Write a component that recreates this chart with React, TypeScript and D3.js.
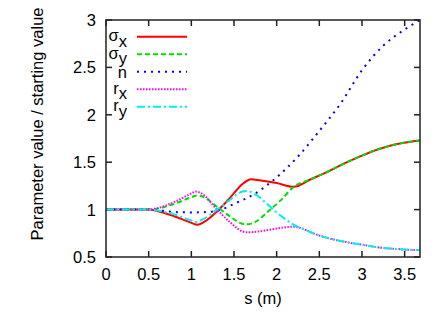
import * as d3 from "d3";

type Pt = [number, number];

const xTicks = [0, 0.5, 1, 1.5, 2, 2.5, 3, 3.5];
const yTicks = [0.5, 1, 1.5, 2, 2.5, 3];

const tail: Pt[] = [
  [2.4, 1.32], [2.6, 1.4], [2.8, 1.49], [3.0, 1.57], [3.2, 1.64],
  [3.4, 1.69], [3.6, 1.72], [3.68, 1.73],
];

const sigmaX: Pt[] = [
  [0, 1], [0.5, 1], [0.6, 0.985], [0.8, 0.93], [1.0, 0.86], [1.07, 0.84],
  [1.15, 0.87], [1.3, 0.98], [1.45, 1.12], [1.6, 1.27], [1.7, 1.32],
  [1.8, 1.31], [2.0, 1.28], [2.2, 1.24], ...tail,
];

const sigmaY: Pt[] = [
  [0, 1], [0.5, 1], [0.6, 1.01], [0.8, 1.06], [1.0, 1.13], [1.07, 1.15],
  [1.15, 1.13], [1.3, 1.03], [1.45, 0.93], [1.6, 0.85], [1.65, 0.845],
  [1.75, 0.87], [1.9, 0.98], [2.05, 1.1], [2.2, 1.24], ...tail,
];

const nVals: Pt[] = [
  [0, 1], [0.5, 1], [0.8, 0.975], [1.0, 0.97], [1.2, 0.975], [1.35, 1.0],
  [1.5, 1.06], [1.75, 1.17], [2.0, 1.34], [2.25, 1.56], [2.5, 1.83],
  [2.75, 2.12], [3.0, 2.47], [3.25, 2.73], [3.5, 2.9], [3.68, 3.0],
];

const ryTail: Pt[] = [
  [2.3, 0.8], [2.4, 0.76], [2.6, 0.7], [2.8, 0.66], [3.0, 0.63], [3.2, 0.6],
  [3.4, 0.585], [3.6, 0.575], [3.68, 0.575],
];

const rX: Pt[] = [
  [0, 1], [0.5, 1], [0.6, 1.015], [0.8, 1.08], [1.0, 1.17], [1.05, 1.19],
  [1.12, 1.17], [1.3, 1.0], [1.45, 0.87], [1.6, 0.77], [1.65, 0.76],
  [1.8, 0.77], [2.0, 0.8], [2.2, 0.82], ...ryTail,
];

const rY: Pt[] = [
  [0, 1], [0.5, 1], [0.6, 0.99], [0.8, 0.95], [1.0, 0.885], [1.05, 0.87],
  [1.12, 0.89], [1.3, 1.0], [1.45, 1.1], [1.6, 1.19], [1.65, 1.195],
  [1.75, 1.16], [1.9, 1.05], [2.0, 0.97], [2.1, 0.9], [2.2, 0.84], ...ryTail,
];

const series = [
  { name: "σ", sub: "x", pts: sigmaX, color: "#ff0000", dash: "" },
  { name: "σ", sub: "y", pts: sigmaY, color: "#00dd00", dash: "5,3" },
  { name: "n", sub: "", pts: nVals, color: "#0000ff", dash: "2,5" },
  { name: "r", sub: "x", pts: rX, color: "#ff00ff", dash: "1.5,1.5" },
  { name: "r", sub: "y", pts: rY, color: "#00eeee", dash: "8,3,2,3" },
];

const W = 447;
const H = 313;
const m = { left: 106, right: 420, top: 20, bottom: 257 };
const font = "'Liberation Sans', Arial, sans-serif";
const fs = 16.5;

export default function App() {
  const x = d3.scaleLinear().domain([0, 3.68]).range([m.left, m.right]);
  const y = d3.scaleLinear().domain([0.5, 3]).range([m.bottom, m.top]);
  const line = d3
    .line<Pt>()
    .x((d) => x(d[0]))
    .y((d) => y(d[1]))
    .curve(d3.curveMonotoneX);

  return (
    <svg
      width={W}
      height={H}
      style={{ position: "absolute", left: 0, top: 0, background: "#fff" }}
      fontFamily={font}
    >
      <defs>
        <clipPath id="plot">
          <rect x={m.left} y={m.top} width={m.right - m.left} height={m.bottom - m.top} />
        </clipPath>
      </defs>

      {/* ticks */}
      <g stroke="#222" strokeWidth={1.5}>
        {xTicks.map((t) => (
          <g key={"x" + t}>
            <line x1={x(t)} x2={x(t)} y1={m.bottom} y2={m.bottom - 6} />
            <line x1={x(t)} x2={x(t)} y1={m.top} y2={m.top + 6} />
          </g>
        ))}
        {yTicks.map((t) => (
          <g key={"y" + t}>
            <line x1={m.left} x2={m.left + 6} y1={y(t)} y2={y(t)} />
            <line x1={m.right} x2={m.right - 6} y1={y(t)} y2={y(t)} />
          </g>
        ))}
      </g>

      {xTicks.map((t) => (
        <text key={"xl" + t} x={x(t)} y={280} fontSize={fs} textAnchor="middle" fill="#000">
          {t}
        </text>
      ))}
      {yTicks.map((t) => (
        <text key={"yl" + t} x={96} y={y(t) + 6} fontSize={fs} textAnchor="end" fill="#000">
          {t}
        </text>
      ))}

      <text x={263} y={304} fontSize={fs} textAnchor="middle">
        s (m)
      </text>
      <text
        transform="translate(43,124) rotate(-90)"
        fontSize={fs}
        textAnchor="middle"
      >
        Parameter value / starting value
      </text>

      {/* curves */}
      <g clipPath="url(#plot)">
        {series.map((s, i) => (
          <path
            key={i}
            d={line(s.pts) ?? ""}
            fill="none"
            stroke={s.color}
            strokeWidth={2}
            strokeDasharray={s.dash || undefined}
          />
        ))}
      </g>

      {/* legend */}
      {series.map((s, i) => {
        const ly = 36.7 + i * 17.5;
        return (
          <g key={"lg" + i}>
            <text x={127} y={ly + (s.sub ? 4.5 : 6)} fontSize={fs} textAnchor="end">
              {s.name}
              {s.sub && <tspan dy={5.5}>{s.sub}</tspan>}
            </text>
            <line
              x1={137}
              x2={187}
              y1={ly}
              y2={ly}
              stroke={s.color}
              strokeWidth={2}
              strokeDasharray={s.dash || undefined}
            />
          </g>
        );
      })}

      <rect
        x={m.left}
        y={m.top}
        width={m.right - m.left}
        height={m.bottom - m.top}
        fill="none"
        stroke="#222"
        strokeWidth={1.5}
      />
    </svg>
  );
}
